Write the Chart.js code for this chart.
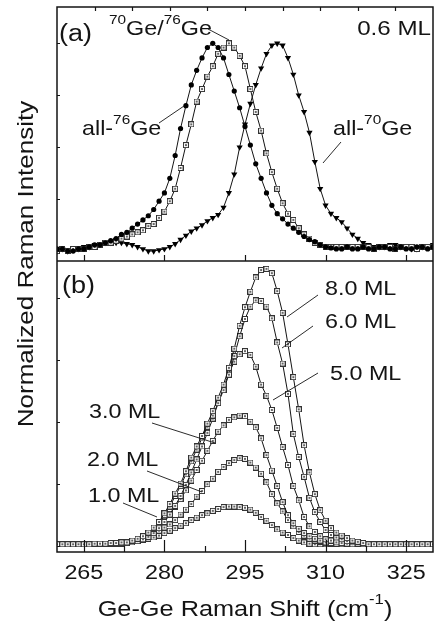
<!DOCTYPE html>
<html>
<head>
<meta charset="utf-8">
<script src="https://cdn.jsdelivr.net/npm/chart.js@4/dist/chart.umd.min.js"></script>
<style>
  html, body { margin: 0; padding: 0; background: #fff; }
  canvas { display: block; }
</style>
</head>
<body>
<canvas id="c" width="438" height="627"></canvas>
<script>
// Raman shift (cm-1), shared by every curve
const shift = [260, 261, 262, 263, 264, 265, 266, 267, 268, 269, 270, 271, 272, 273, 274, 275, 276, 277, 278, 279,
    280, 281, 282, 283, 284, 285, 286, 287, 288, 289, 290, 291, 292, 293, 294, 295, 296, 297, 298, 299,
    300, 301, 302, 303, 304, 305, 306, 307, 308, 309, 310, 311, 312, 313, 314, 315, 316, 317, 318, 319,
    320, 321, 322, 323, 324, 325, 326, 327, 328, 329, 330];

// panel (a): 0.6 ML, normalized
const all76 = [0.01, 0.01, 0.00, 0.00, 0.01, 0.01, 0.02, 0.03, 0.03, 0.04, 0.05, 0.06, 0.08, 0.09, 0.11, 0.13, 0.15, 0.17, 0.20, 0.24,
    0.28, 0.35, 0.46, 0.59, 0.70, 0.80, 0.87, 0.93, 0.98, 1.00, 0.98, 0.93, 0.85, 0.77, 0.69, 0.60, 0.51, 0.42, 0.35, 0.28,
    0.22, 0.18, 0.155, 0.13, 0.11, 0.09, 0.07, 0.055, 0.045, 0.03, 0.02, 0.015, 0.01, 0.01, 0.02, 0.01, 0.01, 0.02, 0.01, 0.01,
    0.02, 0.02, 0.01, 0.01, 0.02, 0.01, 0.01, 0.02, 0.02, 0.01, 0.02];
const mixed = [0.00, 0.01, 0.00, 0.01, 0.01, 0.01, 0.02, 0.02, 0.03, 0.04, 0.04, 0.05, 0.06, 0.07, 0.08, 0.09, 0.10, 0.12, 0.13, 0.16,
    0.19, 0.24, 0.30, 0.40, 0.51, 0.61, 0.72, 0.78, 0.84, 0.89, 0.95, 0.98, 1.00, 0.98, 0.94, 0.89, 0.78, 0.67, 0.58, 0.47,
    0.38, 0.30, 0.23, 0.18, 0.15, 0.11, 0.08, 0.06, 0.04, 0.03, 0.02, 0.02, 0.02, 0.02, 0.02, 0.02, 0.02, 0.02, 0.02, 0.01,
    0.02, 0.02, 0.02, 0.01, 0.02, 0.02, 0.02, 0.01, 0.02, 0.02, 0.02];
const all70 = [0.00, 0.01, 0.00, 0.01, 0.01, 0.02, 0.02, 0.03, 0.035, 0.04, 0.04, 0.04, 0.04, 0.035, 0.03, 0.02, 0.01, 0.00, 0.00, 0.005,
    0.01, 0.02, 0.035, 0.055, 0.075, 0.095, 0.11, 0.125, 0.145, 0.16, 0.175, 0.21, 0.28, 0.37, 0.50, 0.61, 0.71, 0.80, 0.88, 0.95,
    0.99, 1.00, 0.99, 0.93, 0.85, 0.75, 0.67, 0.57, 0.43, 0.30, 0.22, 0.18, 0.16, 0.14, 0.11, 0.08, 0.06, 0.04, 0.03, 0.02,
    0.02, 0.02, 0.03, 0.03, 0.02, 0.02, 0.01, 0.01, 0.02, 0.02, 0.03];

// panel (b): coverage series
const ml8 = [0.02, 0.02, 0.02, 0.02, 0.02, 0.02, 0.02, 0.03, 0.03, 0.03, 0.04, 0.04, 0.05, 0.05, 0.08, 0.11, 0.15, 0.21, 0.29, 0.38,
    0.52, 0.67, 0.84, 1.00, 1.20, 1.42, 1.60, 1.77, 1.97, 2.17, 2.39, 2.60, 2.87, 3.18, 3.55, 3.85, 4.10, 4.33, 4.45, 4.47,
    4.40, 4.11, 3.76, 3.25, 2.72, 2.20, 1.62, 1.18, 0.83, 0.57, 0.40, 0.28, 0.21, 0.16, 0.12, 0.08, 0.06, 0.04, 0.02, 0.02,
    0.02, 0.02, 0.02, 0.02, 0.02, 0.02, 0.02, 0.02, 0.02, 0.02, 0.02];
const ml6 = [0.02, 0.02, 0.02, 0.02, 0.02, 0.02, 0.02, 0.03, 0.03, 0.03, 0.04, 0.04, 0.05, 0.05, 0.07, 0.11, 0.15, 0.20, 0.27, 0.36,
    0.49, 0.63, 0.80, 0.96, 1.15, 1.36, 1.55, 1.73, 1.92, 2.10, 2.30, 2.51, 2.76, 3.06, 3.38, 3.66, 3.86, 3.96, 3.95, 3.86,
    3.67, 3.28, 2.94, 2.45, 1.80, 1.43, 1.11, 0.77, 0.54, 0.38, 0.25, 0.17, 0.13, 0.10, 0.07, 0.05, 0.03, 0.02, 0.02, 0.02,
    0.02, 0.02, 0.02, 0.02, 0.02, 0.02, 0.02, 0.02, 0.02, 0.02, 0.02];
const ml5 = [0.02, 0.02, 0.02, 0.02, 0.02, 0.02, 0.02, 0.02, 0.03, 0.03, 0.03, 0.03, 0.04, 0.04, 0.05, 0.07, 0.10, 0.14, 0.20, 0.28,
    0.38, 0.50, 0.64, 0.80, 0.98, 1.18, 1.39, 1.60, 1.82, 2.05, 2.30, 2.55, 2.78, 2.97, 3.09, 3.14, 3.08, 2.89, 2.60, 2.42,
    2.19, 1.90, 1.59, 1.30, 0.96, 0.73, 0.46, 0.31, 0.22, 0.15, 0.10, 0.08, 0.05, 0.04, 0.03, 0.02, 0.02, 0.02, 0.02, 0.02,
    0.02, 0.02, 0.02, 0.02, 0.02, 0.02, 0.02, 0.02, 0.02, 0.02, 0.02];
const ml3 = [0.02, 0.02, 0.02, 0.02, 0.02, 0.02, 0.02, 0.02, 0.02, 0.03, 0.03, 0.03, 0.03, 0.04, 0.06, 0.09, 0.12, 0.17, 0.22, 0.31,
    0.40, 0.51, 0.63, 0.75, 0.89, 1.05, 1.22, 1.37, 1.53, 1.69, 1.84, 1.94, 2.03, 2.07, 2.10, 2.09, 2.00, 1.91, 1.73, 1.46,
    1.21, 0.96, 0.70, 0.49, 0.36, 0.27, 0.20, 0.15, 0.11, 0.08, 0.05, 0.04, 0.03, 0.02, 0.02, 0.02, 0.02, 0.02, 0.02, 0.02,
    0.02, 0.02, 0.02, 0.02, 0.02, 0.02, 0.02, 0.02, 0.02, 0.02, 0.02];
const ml2 = [0.02, 0.02, 0.02, 0.02, 0.02, 0.02, 0.02, 0.02, 0.02, 0.02, 0.03, 0.04, 0.05, 0.06, 0.08, 0.10, 0.13, 0.17, 0.21, 0.24,
    0.29, 0.34, 0.41, 0.50, 0.58, 0.67, 0.79, 0.88, 0.99, 1.08, 1.19, 1.27, 1.33, 1.38, 1.41, 1.40, 1.34, 1.26, 1.16, 1.02,
    0.83, 0.68, 0.55, 0.41, 0.31, 0.22, 0.16, 0.11, 0.08, 0.06, 0.04, 0.03, 0.02, 0.02, 0.02, 0.02, 0.02, 0.02, 0.02, 0.02,
    0.02, 0.02, 0.02, 0.02, 0.02, 0.02, 0.02, 0.02, 0.02, 0.02, 0.02];
const ml1 = [0.02, 0.02, 0.02, 0.02, 0.02, 0.02, 0.02, 0.02, 0.03, 0.03, 0.03, 0.04, 0.04, 0.05, 0.06, 0.07, 0.09, 0.11, 0.13, 0.16,
    0.20, 0.24, 0.28, 0.32, 0.36, 0.41, 0.45, 0.49, 0.52, 0.56, 0.59, 0.62, 0.63, 0.63, 0.62, 0.61, 0.58, 0.53, 0.46, 0.40,
    0.33, 0.26, 0.21, 0.17, 0.12, 0.08, 0.05, 0.03, 0.02, 0.02, 0.02, 0.02, 0.02, 0.02, 0.02, 0.02, 0.02, 0.02, 0.02, 0.02,
    0.02, 0.02, 0.02, 0.02, 0.02, 0.02, 0.02, 0.02, 0.02, 0.02, 0.02];

const xTicks = [265, 280, 295, 310, 325];
const xMinor = [272.5, 287.5, 302.5, 317.5];
const topTicks = [267, 274, 281, 288, 295, 302, 309, 316, 323];
const aTicks = [0, 0.25, 0.5, 0.75, 1];
const bTicks = [0, 1, 2, 3, 4];

const FONT = '"Liberation Sans", Arial, Helvetica, sans-serif';
const INK = '#141414';
const SX = 1.15;     // the original lettering is a little wide
const SPLIT = 261;   // boundary between the two panels

// labels: [parts, x, y, size, align]; a part flagged 1 is a superscript
const notes = [
    [[['(a)']], 59, 41, 23.5],
    [[['70', 1], ['Ge/'], ['76', 1], ['Ge']], 109, 35, 20.3],
    [[['0.6 ML']], 431, 35, 21, 'right'],
    [[['all-'], ['76', 1], ['Ge']], 82, 135, 20.3],
    [[['all-'], ['70', 1], ['Ge']], 333, 135, 20.3],
    [[['(b)']], 62, 293, 23.5],
    [[['8.0 ML']], 325, 295, 20.3],
    [[['6.0 ML']], 325, 328, 20.3],
    [[['5.0 ML']], 330, 380, 20.3],
    [[['3.0 ML']], 89, 418, 20.3],
    [[['2.0 ML']], 87, 466, 20.3],
    [[['1.0 ML']], 88, 502, 20.3]
];
const leaders = [
    [208, 29, 229, 40], [159, 123, 184, 106], [341, 142, 323, 163],
    [318, 295, 287, 317], [313, 326, 282, 348], [318, 373, 273, 400],
    [152, 423, 215, 443], [147, 471, 202, 492], [123, 503, 157, 517]
];

function txt(ctx, parts, x, y, size, align) {
    let w = 0;
    const items = parts.map(([s, sup]) => {
        const fs = sup ? size * 0.66 : size;
        ctx.font = fs + 'px ' + FONT;
        const m = ctx.measureText(s).width * SX;
        w += m;
        return { s, fs, sup, m };
    });
    let cx = align === 'center' ? x - w / 2 : align === 'right' ? x - w : x;
    items.forEach(it => {
        ctx.font = it.fs + 'px ' + FONT;
        ctx.save();
        ctx.translate(cx, it.sup ? y - size * 0.55 : y);
        ctx.scale(SX, 1);
        ctx.fillText(it.s, 0, 0);
        ctx.restore();
        cx += it.m;
    });
}

// open square with a dot in the middle
function boxMark() {
    const c = document.createElement('canvas');
    c.width = 6; c.height = 6;
    const g = c.getContext('2d');
    g.fillStyle = '#fff';
    g.fillRect(0, 0, 6, 6);
    g.strokeStyle = '#333';
    g.lineWidth = 1;
    g.strokeRect(0.5, 0.5, 5, 5);
    g.fillStyle = '#666';
    g.fillRect(2, 2, 2, 2);
    return c;
}
const box = boxMark();

const pts = ys => shift.map((x, i) => ({ x, y: ys[i] }));

const line = (label, ys, axis, extra) => Object.assign({
    label,
    data: pts(ys),
    yAxisID: axis,
    borderColor: INK,
    borderWidth: 1,
    pointStyle: box,
    pointRadius: 3,
    tension: 0
}, extra);

const decor = {
    id: 'decor',
    afterDatasetsDraw(chart) {
        const { ctx, chartArea: ca, scales } = chart;
        const x = scales.x, ya = scales.ya, yb = scales.yb;
        ctx.save();
        ctx.strokeStyle = INK;
        ctx.lineWidth = 1.5;
        ctx.strokeRect(ca.left, ca.top, ca.right - ca.left, ca.bottom - ca.top);
        ctx.beginPath();
        ctx.moveTo(ca.left, SPLIT);
        ctx.lineTo(ca.right, SPLIT);
        ctx.stroke();

        ctx.lineWidth = 1.2;
        ctx.beginPath();
        xTicks.forEach(v => {
            const px = Math.round(x.getPixelForValue(v)) + 0.5;
            ctx.moveTo(px, ca.bottom); ctx.lineTo(px, ca.bottom - 12);
            ctx.moveTo(px, SPLIT); ctx.lineTo(px, SPLIT - 6);
        });
        xMinor.forEach(v => {
            const px = Math.round(x.getPixelForValue(v)) + 0.5;
            ctx.moveTo(px, ca.bottom); ctx.lineTo(px, ca.bottom - 6);
        });
        topTicks.forEach(v => {
            const px = Math.round(x.getPixelForValue(v)) + 0.5;
            ctx.moveTo(px, ca.top); ctx.lineTo(px, ca.top + 4);
        });
        aTicks.forEach(v => {
            const py = Math.round(ya.getPixelForValue(v)) + 0.5;
            ctx.moveTo(ca.left, py); ctx.lineTo(ca.left + 3, py);
        });
        bTicks.forEach(v => {
            const py = Math.round(yb.getPixelForValue(v)) + 0.5;
            ctx.moveTo(ca.left, py); ctx.lineTo(ca.left + 3, py);
        });
        ctx.stroke();

        ctx.lineWidth = 0.9;
        ctx.beginPath();
        leaders.forEach(([x1, y1, x2, y2]) => { ctx.moveTo(x1, y1); ctx.lineTo(x2, y2); });
        ctx.stroke();

        ctx.fillStyle = INK;
        ctx.textBaseline = 'alphabetic';
        ctx.textAlign = 'left';
        notes.forEach(([parts, nx, ny, size, align]) => txt(ctx, parts, nx, ny, size, align || 'left'));

        xTicks.forEach(v => txt(ctx, [[String(v)]], x.getPixelForValue(v), 579, 20.3, 'center'));
        txt(ctx, [['Ge-Ge Raman Shift (cm'], ['-1', 1], [')']], (ca.left + ca.right) / 2, 616, 22, 'center');

        ctx.translate(33, 264);
        ctx.rotate(-Math.PI / 2);
        txt(ctx, [['Normalized Raman Intensity']], 0, 0, 22.6, 'center');
        ctx.restore();
    }
};

new Chart(document.getElementById('c'), {
    type: 'line',
    data: {
        datasets: [
            line('all-76Ge', all76, 'ya', { pointStyle: 'circle', pointRadius: 2.6, pointBackgroundColor: '#000', pointBorderWidth: 0 }),
            line('70Ge/76Ge', mixed, 'ya'),
            line('all-70Ge', all70, 'ya', { pointStyle: 'triangle', rotation: 180, pointRadius: 3.6, pointBackgroundColor: '#000', pointBorderWidth: 0 }),
            line('8.0 ML', ml8, 'yb'),
            line('6.0 ML', ml6, 'yb'),
            line('5.0 ML', ml5, 'yb'),
            line('3.0 ML', ml3, 'yb'),
            line('2.0 ML', ml2, 'yb'),
            line('1.0 ML', ml1, 'yb')
        ]
    },
    options: {
        responsive: false,
        animation: false,
        events: [],
        layout: { padding: { left: 57, right: 1, top: 7, bottom: 0 } },
        plugins: { legend: { display: false }, tooltip: { enabled: false } },
        scales: {
            x: {
                type: 'linear', min: 260, max: 330,
                grid: { display: false }, border: { display: false },
                ticks: { display: false },
                afterFit: s => { s.height = 75; }
            },
            ya: { type: 'linear', min: -1.449, max: 1.175, display: false },
            yb: { type: 'linear', min: -0.105, max: 8.70, display: false }
        }
    },
    plugins: [decor]
});
</script>
</body>
</html>
